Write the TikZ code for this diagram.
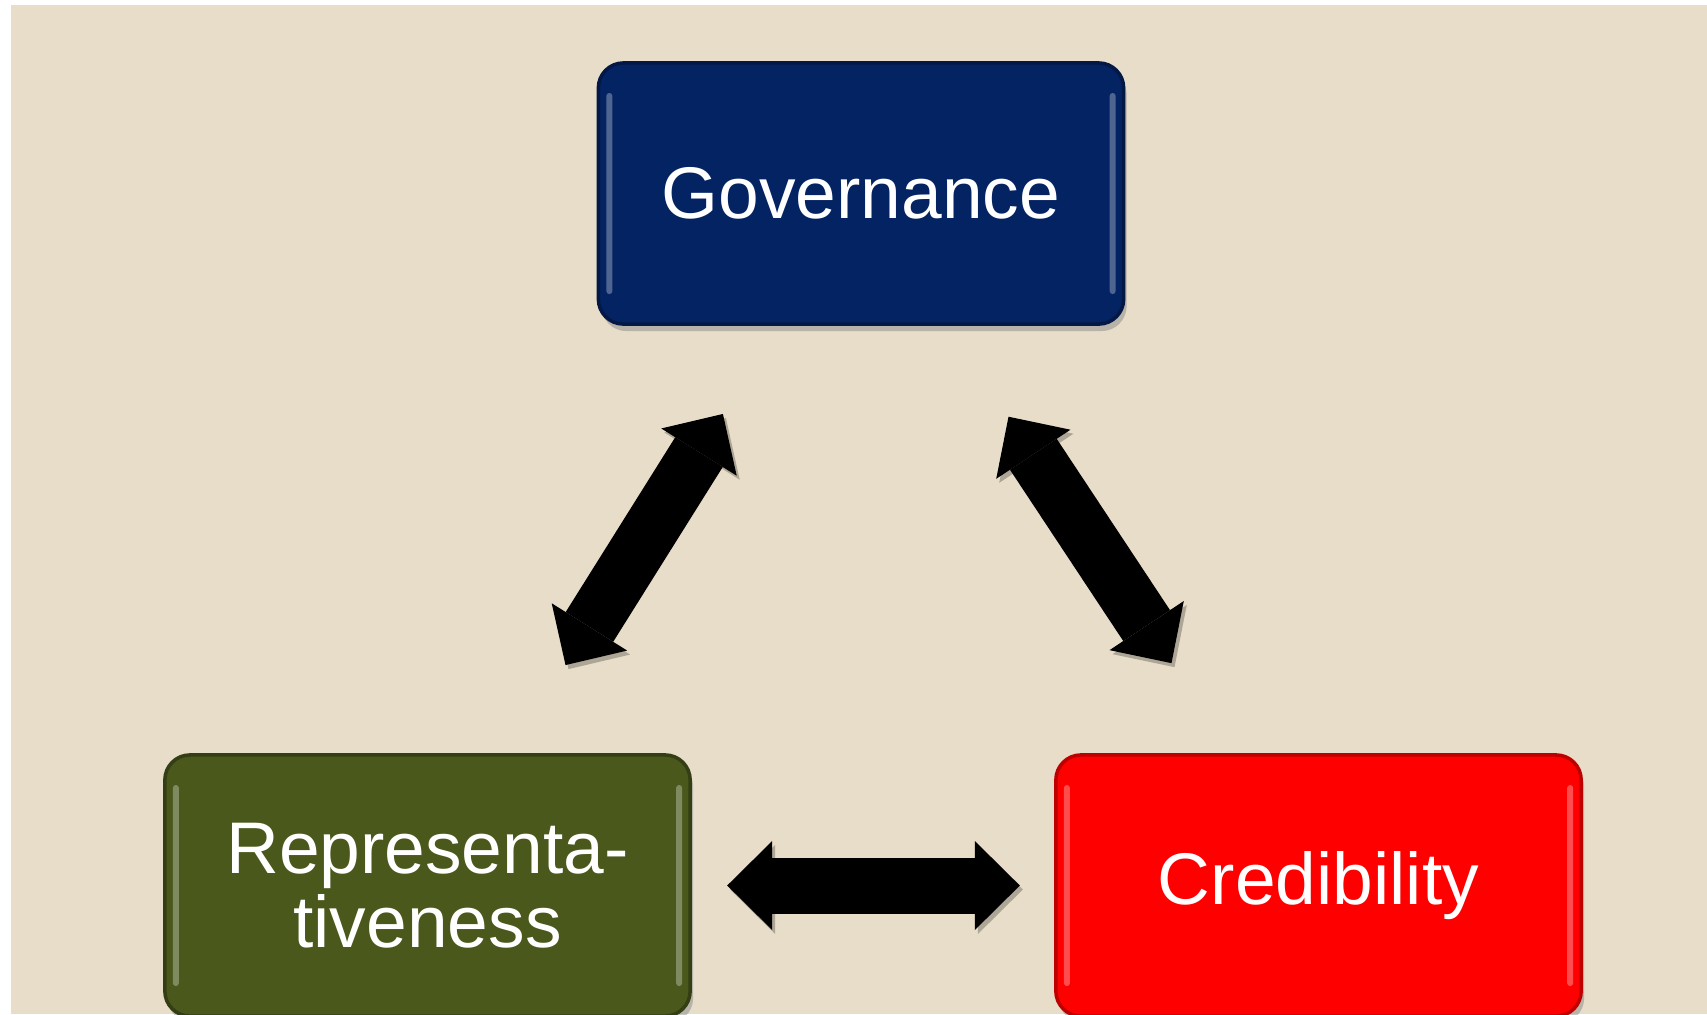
\documentclass[tikz,border=0pt]{standalone}
\usepackage{fontspec}
\setmainfont{Liberation Sans}
\usetikzlibrary{arrows.meta,shadows}
\definecolor{BackClr}{RGB}{231,221,201}
\definecolor{GovClr}{RGB}{4,35,98}
\definecolor{RepClr}{RGB}{74,88,28}
\definecolor{CredClr}{RGB}{255,0,0}

\begin{document}
\begin{tikzpicture}[x=0.01cm,y=-0.01cm,
  box/.style={rounded corners=0.25cm,minimum width=5.25cm,minimum height=2.61cm,
    inner sep=0pt,outer sep=0pt,text=white,align=center,line width=1pt,
    font=\fontsize{20.8}{21}\selectfont,
    drop shadow={opacity=0.45,shadow xshift=0.03cm,shadow yshift=-0.07cm},
    path picture={
      \fill[white,opacity=0.3,rounded corners=0.03cm]
        ([xshift=0.08cm,yshift=0.3cm]path picture bounding box.south west) rectangle
        ([xshift=0.14cm,yshift=-0.3cm]path picture bounding box.north west);
      \fill[white,opacity=0.3,rounded corners=0.03cm]
        ([xshift=-0.14cm,yshift=0.3cm]path picture bounding box.south east) rectangle
        ([xshift=-0.08cm,yshift=-0.3cm]path picture bounding box.north east);
    }},
  link/.style={line width=0.56cm,
    preaction={draw=black,opacity=0.25,transform canvas={xshift=0.03cm,yshift=-0.04cm}},
    {Triangle[length=0.45cm,width=0.89cm,line width=0pt]}-{Triangle[length=0.45cm,width=0.89cm,line width=0pt]}}]

\useasboundingbox (0,0) rectangle (1707,1014);
\clip (0,0) rectangle (1707,1014);
\fill[white] (0,0) rectangle (1707,1014);
\fill[BackClr] (11,5) rectangle (1707,1014);

\node[box,fill=GovClr,draw=GovClr!70!black] (gov) at (861,193.5) {Governance};
\node[box,fill=RepClr,draw=RepClr!70!black] (rep) at (427.5,885.5) {Representa-\\tiveness};
\node[box,fill=CredClr,draw=CredClr!75!black] (cred) at (1318.5,885.5) {Credibility};

\draw[link,shorten <=1.06cm,shorten >=1.06cm] (rep) -- (gov);
\draw[link,shorten <=1.11cm,shorten >=1.10cm] (gov) -- (cred);
\draw[link,shorten <=0.37cm,shorten >=0.36cm] (rep) -- (cred);

\end{tikzpicture}
\end{document}
